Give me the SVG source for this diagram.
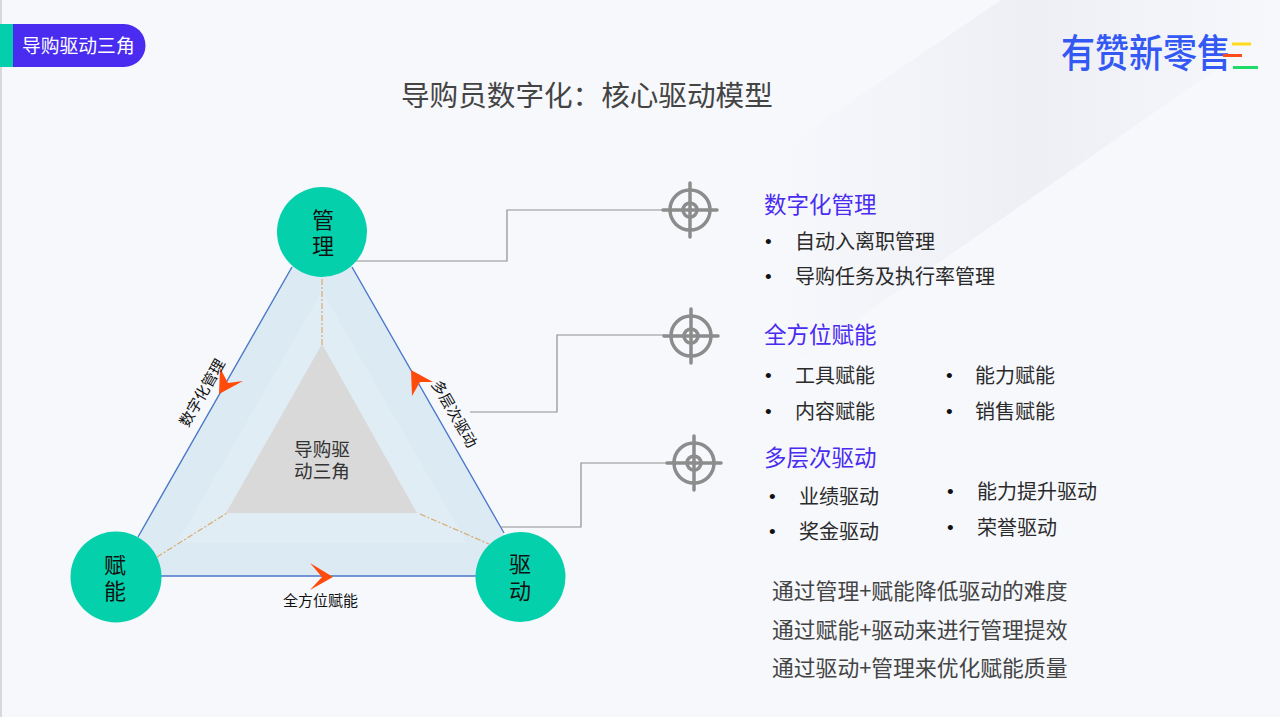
<svg xmlns="http://www.w3.org/2000/svg" width="1280" height="717" viewBox="0 0 1280 717">
<defs>
<linearGradient id="deco" gradientUnits="userSpaceOnUse" x1="780" y1="0" x2="1280" y2="0"><stop offset="0" stop-color="#eeeff4" stop-opacity="0"/><stop offset=".5" stop-color="#eeeff4"/><stop offset="1" stop-color="#eeeff4" stop-opacity="0"/></linearGradient>
<g id="target" fill="none" stroke="#8c8c8c" stroke-linecap="round">
<circle r="20" stroke-width="3.500"/><circle r="7" stroke-width="3.500"/>
<path d="M-27 0H27M0-27V27" stroke-width="3.500"/>
</g>
</defs>
<style>
text{font-family:"Noto Sans CJK SC","Noto Sans",sans-serif}
.h{font-size:22.500px;fill:#4a2cf0}
.b{font-size:20px;fill:#2a2a2a}
.bu{font-family:"Liberation Sans",sans-serif;font-size:19px;fill:#111}
.s{font-size:21.800px;fill:#444}
.n{font-size:22px;fill:#111;text-anchor:middle}
.c{fill:#04d1ac}
.link{fill:none;stroke:#8f8f8f;stroke-width:1.200}
.dash{stroke:#d9ab73;stroke-width:1.200;stroke-dasharray:6 2 2 2;fill:none}
.edge{stroke:#4b77c9;stroke-width:1.400;fill:none}
.arrow{fill:#ff4a0c}
.lab{font-size:15px;fill:#111}
</style>
<rect width="1280" height="717" fill="#f6f8fc"/>
<rect width="2" height="717" fill="#d8d8d8"/>
<path d="M1001 0H1280V25L783 371V148Z" fill="url(#deco)"/>
<g id="tag">
<path d="M13 24H124A21.500 21.500 0 0 1 124 67H13Z" fill="#4a2cf0"/>
<rect y="24" width="13" height="43" fill="#04cfac"/>
<text x="22" y="53" font-size="18.800" fill="#fff">导购驱动三角</text>
</g>
<g id="logo">
<text x="1061" y="67" font-size="39" fill="#3358f4" font-weight="500" textLength="170" lengthAdjust="spacingAndGlyphs">有赞新零售</text>
<rect x="1232" y="42.500" width="19" height="3" fill="#ffd91a"/>
<rect x="1223" y="54" width="19" height="3" fill="#ff4a1a"/>
<rect x="1233" y="66" width="25" height="3" fill="#1fdc6a"/>
</g>
<text id="title" x="401" y="106" font-size="28.600" fill="#444">导购员数字化：核心驱动模型</text>
<g id="triangle">
<path d="M322 213L527 576H116Z" fill="#dceaf4"/>
<path d="M322 291L467 543H177Z" fill="#e0edf5"/>
<path d="M322 344L417 513H226Z" fill="#d9d9d9"/>
<text x="322" y="456" text-anchor="middle" style="font-size:18.600px;fill:#333">导购驱<tspan x="322" dy="22">动三角</tspan></text>
</g>
<g id="connectors">
<path class="edge" d="M292 267L138 537M352 267L504 533M160 576H478"/>
<path class="dash" d="M322 279V345M157 557L227 513M420 514L489 544"/>
<path class="link" d="M355 261H507V210H664M470 412H557V335H664M500 527H581V463H668"/>
</g>
<g id="arrows">
<path class="arrow" d="M220 368L228 383L243 381L219 394Z"/>
<path class="arrow" d="M310 563L333 577L310 590L322 577Z"/>
<path class="arrow" d="M411 370L433 382L420 382L412 396Z"/>
</g>
<text class="lab" transform="translate(188 428) rotate(-60)">数字化管理</text>
<text class="lab" transform="translate(431 384) rotate(60)">多层次驱动</text>
<text class="lab" x="283" y="606">全方位赋能</text>
<g id="node-guanli"><circle class="c" cx="322" cy="232" r="45"/><text class="n" x="323" y="228">管<tspan x="323" dy="26">理</tspan></text></g>
<g id="node-funeng"><circle class="c" cx="116" cy="577" r="45.500"/><text class="n" x="115" y="573">赋<tspan x="115" dy="26">能</tspan></text></g>
<g id="node-qudong"><circle class="c" cx="520.500" cy="577" r="45"/><text class="n" x="520" y="572">驱<tspan x="520" dy="27">动</tspan></text></g>
<use href="#target" x="690" y="210"/>
<use href="#target" x="691" y="336"/>
<use href="#target" x="694" y="463"/>
<g id="sec1">
<text class="h" x="764" y="213">数字化管理</text>
<text class="bu" x="765" y="248">•</text><text class="b" x="795" y="249">自动入离职管理</text>
<text class="bu" x="765" y="283">•</text><text class="b" x="795" y="284">导购任务及执行率管理</text>
</g>
<g id="sec2">
<text class="h" x="764" y="343">全方位赋能</text>
<text class="bu" x="765" y="382">•</text><text class="b" x="795" y="383">工具赋能</text>
<text class="bu" x="946" y="382">•</text><text class="b" x="975" y="383">能力赋能</text>
<text class="bu" x="765" y="418">•</text><text class="b" x="795" y="419">内容赋能</text>
<text class="bu" x="946" y="418">•</text><text class="b" x="975" y="419">销售赋能</text>
</g>
<g id="sec3">
<text class="h" x="764" y="466">多层次驱动</text>
<text class="bu" x="769" y="503">•</text><text class="b" x="799" y="504">业绩驱动</text>
<text class="bu" x="947" y="498">•</text><text class="b" x="977" y="499">能力提升驱动</text>
<text class="bu" x="769" y="538">•</text><text class="b" x="799" y="539">奖金驱动</text>
<text class="bu" x="947" y="534">•</text><text class="b" x="977" y="535">荣誉驱动</text>
</g>
<g id="summary">
<text class="s" x="772" y="599">通过管理+赋能降低驱动的难度</text>
<text class="s" x="772" y="638">通过赋能+驱动来进行管理提效</text>
<text class="s" x="772" y="676">通过驱动+管理来优化赋能质量</text>
</g>
</svg>
